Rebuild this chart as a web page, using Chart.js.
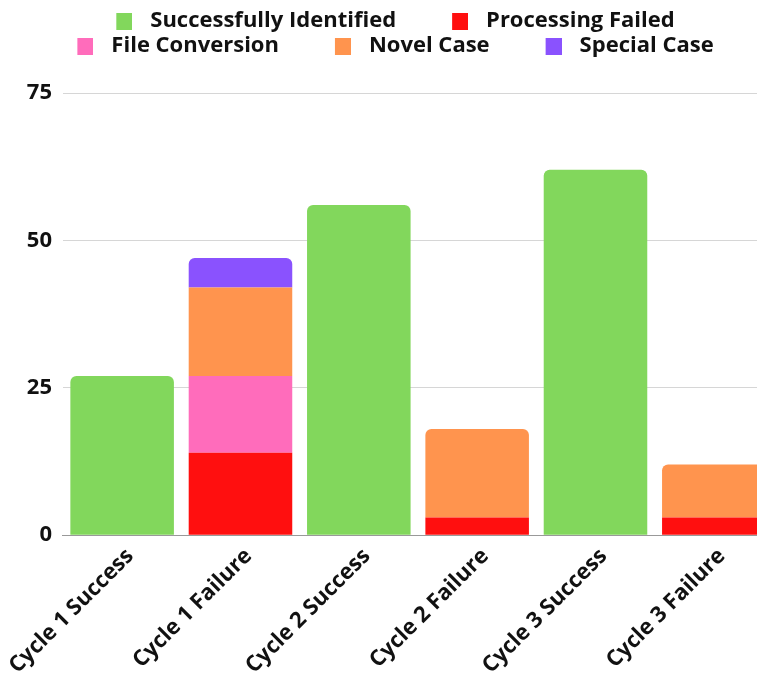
<!DOCTYPE html>
<html>
<head>
<meta charset="utf-8">
<script src="https://cdn.jsdelivr.net/npm/chart.js@4.4.0/dist/chart.umd.min.js"></script>
<style>
  html, body { margin: 0; padding: 0; background: #fff; overflow: hidden; }
  #wrap { width: 786px; height: 676px; }
</style>
</head>
<body>
<div id="wrap"><canvas id="myChart"></canvas></div>
<script>
let categories = ["Cycle 1 Success", "Cycle 1 Failure", "Cycle 2 Success", "Cycle 2 Failure", "Cycle 3 Success", "Cycle 3 Failure"];
let seriesNames = ["Successfully Identified", "Processing Failed", "File Conversion", "Novel Case", "Special Case"];
let successfullyIdentified = [27, null, 56, null, 62, null];
let processingFailed = [null, 14, null, 3, null, 3];
let fileConversion = [null, 13, null, null, null, null];
let novelCase = [null, 15, null, 15, null, 9];
let specialCase = [null, 5, null, null, null, null];
let yTicks = [0, 25, 50, 75];

let colors = ["#82d75c", "#ff0f0f", "#ff6cbb", "#ff944e", "#8a52fe"];
let font = "'Open Sans', sans-serif";

// legend box drawn on a wider transparent canvas so the spacing looks right
function makeBox(color) {
  let c = document.createElement("canvas");
  c.width = 62;
  c.height = 17;
  let ctx = c.getContext("2d");
  ctx.fillStyle = color;
  ctx.fillRect(46, 0, 16, 17);
  return c;
}
let boxes = colors.map(makeBox);

// nudge legend back to center / up, since the boxes carry leading space
const legendShift = {
  id: "legendShift",
  afterLayout(chart) {
    let lg = chart.legend;
    lg.left -= 24;
    lg.right -= 24;
    lg.top -= 26;
    lg.bottom -= 26;
  }
};

let seriesData = [successfullyIdentified, processingFailed, fileConversion, novelCase, specialCase];

var ctx = document.getElementById("myChart").getContext("2d");
let myChart = new Chart(ctx, {
  type: "bar",
  data: {
    labels: categories,
    datasets: seriesNames.map((name, i) => ({
      label: name,
      data: seriesData[i],
      backgroundColor: colors[i],
      borderRadius: 6,
      borderSkipped: "start",
      barPercentage: 0.875,
      categoryPercentage: 1
    }))
  },
  options: {
    responsive: true,
    maintainAspectRatio: false,
    animation: false,
    layout: { padding: { top: 33, left: 13, right: 13, bottom: 0 } },
    plugins: {
      tooltip: { enabled: false },
      legend: {
        position: "top",
        labels: {
          usePointStyle: true,
          pointStyleWidth: 76,
          padding: 3,
          color: "#111",
          font: { family: font, size: 22, weight: "bold" },
          generateLabels: chart => Chart.defaults.plugins.legend.labels.generateLabels(chart).map(l => {
            l.pointStyle = boxes[l.datasetIndex];
            return l;
          })
        }
      }
    },
    scales: {
      x: {
        stacked: true,
        grid: { display: false },
        border: { color: "#999" },
        afterFit: axis => { axis.height -= 3; },
        ticks: {
          color: "#111",
          padding: 0,
          labelOffset: 8,
          maxRotation: 45,
          minRotation: 45,
          font: { family: font, size: 22, weight: "bold" }
        }
      },
      y: {
        stacked: true,
        min: 0,
        max: 75,
        afterBuildTicks: axis => { axis.ticks = yTicks.map(v => ({ value: v })); },
        border: { display: false },
        grid: {
          drawTicks: false,
          color: c => (c.tick && c.tick.value === 0 ? "#999" : "#d6d6d6")
        },
        ticks: {
          color: "#111",
          padding: 11,
          font: { family: font, size: 22, weight: "bold" }
        }
      }
    }
  },
  plugins: [legendShift]
});
</script>
</body>
</html>
